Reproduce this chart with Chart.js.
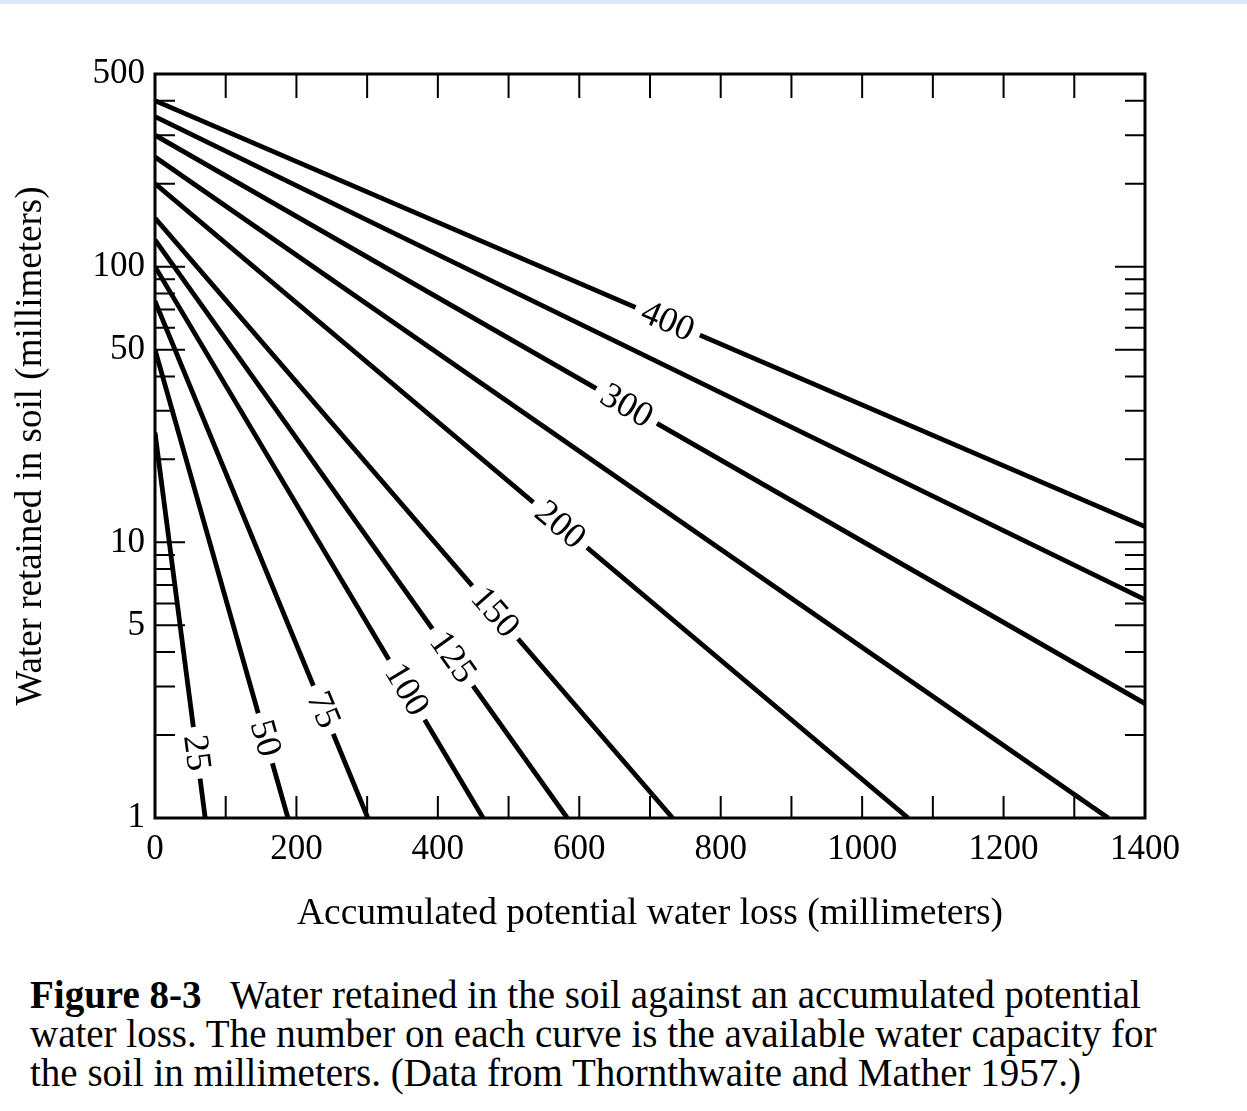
<!DOCTYPE html>
<html>
<head>
<meta charset="utf-8">
<script src="https://cdn.jsdelivr.net/npm/chart.js@4.4.0/dist/chart.umd.min.js"></script>
<style>
  html, body { margin: 0; padding: 0; background: #fff; }
  body { width: 1247px; height: 1111px; position: relative; overflow: hidden; font-family: "Liberation Serif", "Times New Roman", serif; }
  #topband { position: absolute; left: 0; top: 0; width: 1247px; height: 4px; background: #dce9f7; }
  #wrap { position: absolute; left: 0; top: 0; width: 1247px; height: 950px; }
  #caption { position: absolute; left: 30px; top: 975px; font-size: 39px; line-height: 39px; color: #000; white-space: nowrap; }
</style>
</head>
<body>
<div id="topband"></div>
<div id="wrap"><canvas id="soilChart" width="1247" height="950"></canvas></div>
<div id="caption"><b>Figure 8-3</b>&nbsp;&nbsp; Water retained in the soil against an accumulated potential<br>water loss. The number on each curve is the available water capacity for<br>the soil in millimeters. (Data from Thornthwaite and Mather 1957.)</div>
<script>
// each curve is a straight line on the log axis, so two end points per curve
const capacities = [25, 50, 75, 100, 125, 150, 200, 250, 300, 350, 400];
const startRetained = [25, 50, 75, 100, 125, 150, 200, 250, 300, 350, 400];   // at loss = 0
const endLoss = [71, 188, 301, 464, 583, 732, 1065, 1348, 1400, 1400, 1400];
const endRetained = [1, 1, 1, 1, 1, 1, 1, 1, 2.6, 6.2, 11.4];

// labels written on the curves (null = unlabelled curve)
const labelText = ['25', '50', '75', '100', '125', '150', '200', null, '300', null, '400'];
const labelAt = [59, 156, 238, 356, 421, 481, 573, null, 667, null, 725];

// axis ticks
const xLabelTicks = [0, 200, 400, 600, 800, 1000, 1200, 1400];
const xMarkTicks = [100, 200, 300, 400, 500, 600, 700, 800, 900, 1000, 1100, 1200, 1300];
const yLabelTicks = [1, 5, 10, 50, 100, 500];
const yMarkTicks = [2, 3, 4, 5, 6, 7, 8, 9, 10, 20, 30, 40, 50, 60, 70, 80, 90, 100, 200, 300, 400];
const yLongTicks = [5, 10, 50, 100];

const serif = '"Liberation Serif", "Times New Roman", serif';

// frame, inward tick marks and the numbers written on the curves
const framePlugin = {
    id: 'frameAndLabels',
    afterDatasetsDraw(chart) {
        const { ctx, chartArea: a, scales: { x, y } } = chart;
        ctx.save();
        ctx.strokeStyle = '#000';
        ctx.lineWidth = 3;
        ctx.strokeRect(a.left, a.top, a.right - a.left, a.bottom - a.top);

        ctx.lineWidth = 2;
        ctx.beginPath();
        xMarkTicks.forEach(v => {
            const px = x.getPixelForValue(v);
            ctx.moveTo(px, a.bottom);
            ctx.lineTo(px, a.bottom - 22);
            ctx.moveTo(px, a.top);
            ctx.lineTo(px, a.top + 24);
        });
        yMarkTicks.forEach(v => {
            const py = y.getPixelForValue(v);
            const len = yLongTicks.includes(v) ? 30 : 20;
            ctx.moveTo(a.left, py);
            ctx.lineTo(a.left + len, py);
            ctx.moveTo(a.right, py);
            ctx.lineTo(a.right - len, py);
        });
        ctx.stroke();

        ctx.font = '36px ' + serif;
        ctx.textAlign = 'center';
        ctx.textBaseline = 'middle';
        capacities.forEach((c, i) => {
            if (labelText[i] === null) return;
            const x0 = x.getPixelForValue(0), y0 = y.getPixelForValue(startRetained[i]);
            const x1 = x.getPixelForValue(endLoss[i]), y1 = y.getPixelForValue(endRetained[i]);
            const px = x.getPixelForValue(labelAt[i]);
            const t = (px - x0) / (x1 - x0);
            const py = y0 + t * (y1 - y0);
            const ang = Math.atan2(y1 - y0, x1 - x0);
            const w = ctx.measureText(labelText[i]).width;
            ctx.save();
            ctx.translate(px, py);
            ctx.rotate(ang);
            ctx.fillStyle = '#fff';
            ctx.fillRect(-w / 2 - 8, -9, w + 16, 18);
            ctx.fillStyle = '#000';
            ctx.fillText(labelText[i], 0, 1);
            ctx.restore();
        });
        ctx.restore();
    }
};

const ctx = document.getElementById('soilChart').getContext('2d');
new Chart(ctx, {
    type: 'line',
    data: {
        datasets: capacities.map((c, i) => ({
            label: String(c),
            data: [{ x: 0, y: startRetained[i] }, { x: endLoss[i], y: endRetained[i] }],
            borderColor: '#000',
            borderWidth: 4.8,
            pointRadius: 0,
            tension: 0
        }))
    },
    options: {
        responsive: false,
        animation: false,
        layout: { padding: { top: 74, right: 102, left: 0, bottom: 0 } },
        plugins: {
            legend: { display: false },
            tooltip: { enabled: false }
        },
        scales: {
            x: {
                type: 'linear',
                min: 0,
                max: 1400,
                grid: { display: false },
                border: { display: false },
                afterBuildTicks: s => { s.ticks = xLabelTicks.map(v => ({ value: v })); },
                afterFit: s => { s.height = 132; },
                ticks: {
                    color: '#000',
                    font: { family: serif, size: 35 },
                    padding: 3,
                    maxRotation: 0,
                    autoSkip: false,
                    callback: v => String(v)
                },
                title: {
                    display: true,
                    text: 'Accumulated potential water loss (millimeters)',
                    color: '#000',
                    font: { family: serif, size: 37.5 },
                    padding: { top: 0, bottom: 13 }
                }
            },
            y: {
                type: 'logarithmic',
                min: 1,
                max: 500,
                grid: { display: false },
                border: { display: false },
                afterBuildTicks: s => { s.ticks = yLabelTicks.map(v => ({ value: v })); },
                afterFit: s => { s.width = 155; },
                ticks: {
                    color: '#000',
                    font: { family: serif, size: 35 },
                    padding: 2,
                    autoSkip: false,
                    callback: v => String(v)
                },
                title: {
                    display: true,
                    text: 'Water retained in soil (millimeters)',
                    color: '#000',
                    font: { family: serif, size: 37 },
                    padding: { top: 9, bottom: 0 }
                }
            }
        }
    },
    plugins: [framePlugin]
});
</script>
</body>
</html>
